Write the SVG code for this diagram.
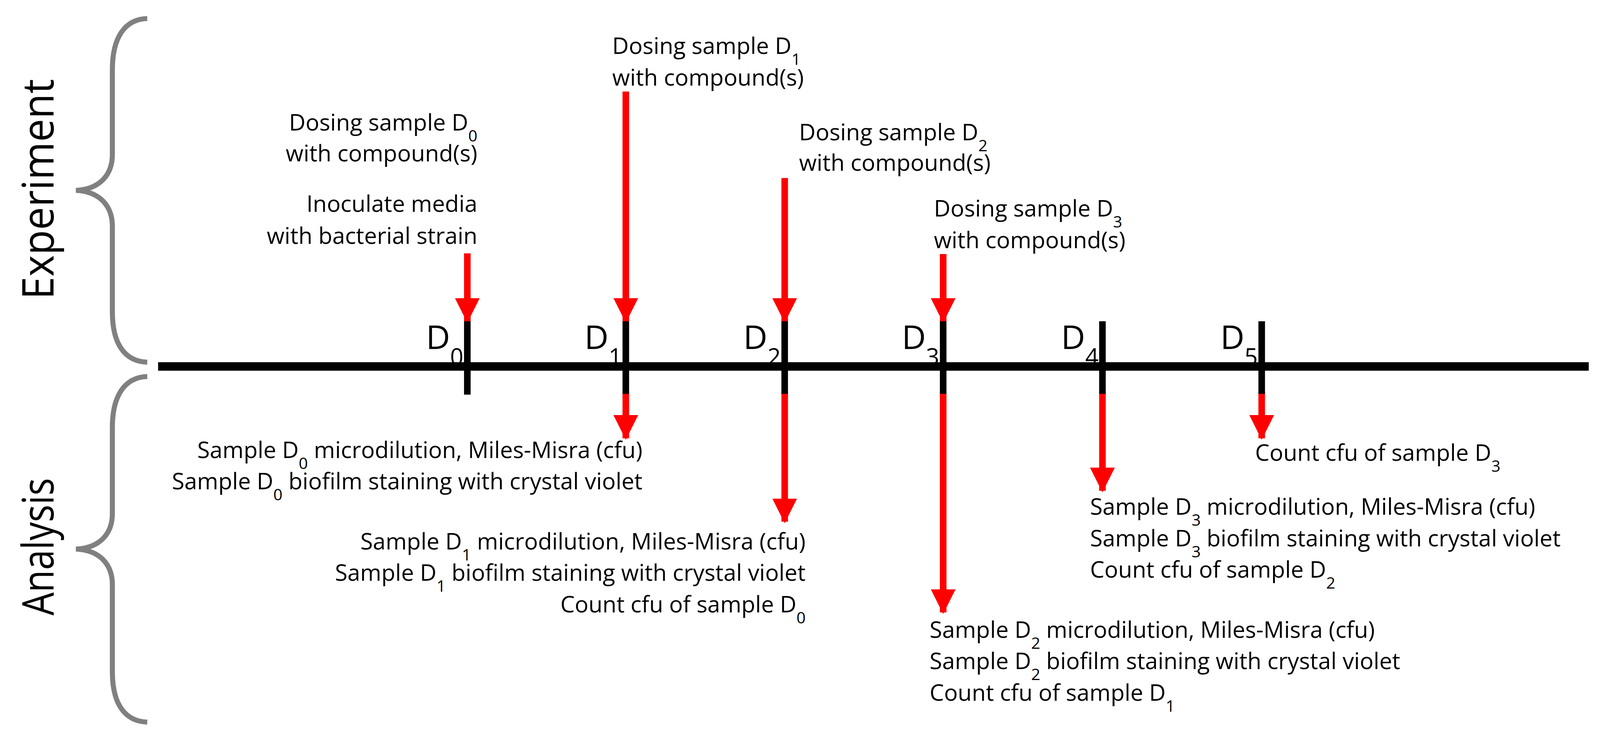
<svg xmlns="http://www.w3.org/2000/svg" width="4130" height="1919" viewBox="0 0 4130 1919">
<style>
text{font-family:"Open Sans","Liberation Sans",sans-serif;fill:#000}
.t{font-size:59px}
.d{font-size:86px}
.s{font-size:70%}
.big{font-size:112px}
.brace{fill:none;stroke:#808080;stroke-width:13}
.red{stroke:#f00;stroke-width:17}
.tick{stroke:#000;stroke-width:17}
</style>
<defs>
<marker id="ah" viewBox="0 0 64 64" refX="60" refY="32" markerWidth="64" markerHeight="64" markerUnits="userSpaceOnUse" orient="auto"><path d="M0,0 L64,32 L0,64 Z" fill="#f00"/></marker>
</defs>
<g transform="scale(0.992 0.988)">
<g id="braces">
<path class="brace" d="M380,48 C320,50 290,100 290,180 L290,400 C290,450 260,490 196,493 C260,496 290,536 290,586 L290,808 C290,888 320,936 380,938"/>
<path class="brace" d="M380,975 C320,977 290,1027 290,1107 L290,1330 C290,1380 260,1419 196,1422 C260,1425 290,1464 290,1514 L290,1740 C290,1820 320,1868 380,1870"/>
<text class="big" transform="translate(138,490) rotate(-90)" text-anchor="middle" textLength="571" lengthAdjust="spacingAndGlyphs">Experiment</text>
<text class="big" transform="translate(138,1416) rotate(-90)" text-anchor="middle" textLength="356" lengthAdjust="spacingAndGlyphs">Analysis</text>
</g>
<g id="connectors">
<line x1="408" y1="949" x2="4100" y2="949" stroke="#000" stroke-width="22"/>
<line class="red" x1="1206" y1="656" x2="1206" y2="832" marker-end="url(#ah)"/>
<line class="red" x1="1615" y1="237" x2="1615" y2="832" marker-end="url(#ah)"/>
<line class="red" x1="2025" y1="461" x2="2025" y2="832" marker-end="url(#ah)"/>
<line class="red" x1="2434" y1="658" x2="2434" y2="832" marker-end="url(#ah)"/>
<line class="red" x1="1615" y1="1015" x2="1615" y2="1135" marker-end="url(#ah)"/>
<line class="red" x1="2025" y1="1015" x2="2025" y2="1351" marker-end="url(#ah)"/>
<line class="red" x1="2434" y1="1015" x2="2434" y2="1586" marker-end="url(#ah)"/>
<line class="red" x1="2845" y1="1015" x2="2845" y2="1271" marker-end="url(#ah)"/>
<line class="red" x1="3256" y1="1015" x2="3256" y2="1135" marker-end="url(#ah)"/>
</g>
<g id="D0"><line class="tick" x1="1206" y1="832" x2="1206" y2="1022"/><text class="d" x="1196" y="904" text-anchor="end">D<tspan class="s" baseline-shift="sub">0</tspan></text></g>
<g id="D1"><line class="tick" x1="1615" y1="832" x2="1615" y2="1020"/><text class="d" x="1605" y="904" text-anchor="end">D<tspan class="s" baseline-shift="sub">1</tspan></text></g>
<g id="D2"><line class="tick" x1="2025" y1="832" x2="2025" y2="1020"/><text class="d" x="2015" y="904" text-anchor="end">D<tspan class="s" baseline-shift="sub">2</tspan></text></g>
<g id="D3"><line class="tick" x1="2434" y1="832" x2="2434" y2="1020"/><text class="d" x="2424" y="904" text-anchor="end">D<tspan class="s" baseline-shift="sub">3</tspan></text></g>
<g id="D4"><line class="tick" x1="2845" y1="832" x2="2845" y2="1020"/><text class="d" x="2835" y="904" text-anchor="end">D<tspan class="s" baseline-shift="sub">4</tspan></text></g>
<g id="D5"><line class="tick" x1="3256" y1="832" x2="3256" y2="1020"/><text class="d" x="3246" y="904" text-anchor="end">D<tspan class="s" baseline-shift="sub">5</tspan></text></g>
<g id="exp-D0">
<text class="t" x="1232" y="338" text-anchor="end">Dosing sample D<tspan class="s" baseline-shift="sub">0</tspan></text>
<text class="t" x="1232" y="418" text-anchor="end">with compound(s)</text>
<text class="t" x="1232" y="549" text-anchor="end">Inoculate media</text>
<text class="t" x="1232" y="632" text-anchor="end">with bacterial strain</text>
</g>
<g id="exp-D1">
<text class="t" x="1580" y="140">Dosing sample D<tspan class="s" baseline-shift="sub">1</tspan></text>
<text class="t" x="1580" y="222">with compound(s)</text>
</g>
<g id="exp-D2">
<text class="t" x="2062" y="363">Dosing sample D<tspan class="s" baseline-shift="sub">2</tspan></text>
<text class="t" x="2062" y="442">with compound(s)</text>
</g>
<g id="exp-D3">
<text class="t" x="2410" y="561">Dosing sample D<tspan class="s" baseline-shift="sub">3</tspan></text>
<text class="t" x="2410" y="643">with compound(s)</text>
</g>
<g id="ana-D1">
<text class="t" x="1658" y="1186" text-anchor="end">Sample D<tspan class="s" baseline-shift="sub">0</tspan> microdilution, Miles-Misra (cfu)</text>
<text class="t" x="1658" y="1267" text-anchor="end">Sample D<tspan class="s" baseline-shift="sub">0</tspan> biofilm staining with crystal violet</text>
</g>
<g id="ana-D2">
<text class="t" x="2079" y="1423" text-anchor="end">Sample D<tspan class="s" baseline-shift="sub">1</tspan> microdilution, Miles-Misra (cfu)</text>
<text class="t" x="2079" y="1504" text-anchor="end">Sample D<tspan class="s" baseline-shift="sub">1</tspan> biofilm staining with crystal violet</text>
<text class="t" x="2079" y="1586" text-anchor="end">Count cfu of sample D<tspan class="s" baseline-shift="sub">0</tspan></text>
</g>
<g id="ana-D3">
<text class="t" x="2399" y="1652">Sample D<tspan class="s" baseline-shift="sub">2</tspan> microdilution, Miles-Misra (cfu)</text>
<text class="t" x="2399" y="1733">Sample D<tspan class="s" baseline-shift="sub">2</tspan> biofilm staining with crystal violet</text>
<text class="t" x="2399" y="1815">Count cfu of sample D<tspan class="s" baseline-shift="sub">1</tspan></text>
</g>
<g id="ana-D4">
<text class="t" x="2813" y="1333">Sample D<tspan class="s" baseline-shift="sub">3</tspan> microdilution, Miles-Misra (cfu)</text>
<text class="t" x="2813" y="1415">Sample D<tspan class="s" baseline-shift="sub">3</tspan> biofilm staining with crystal violet</text>
<text class="t" x="2813" y="1496">Count cfu of sample D<tspan class="s" baseline-shift="sub">2</tspan></text>
</g>
<g id="ana-D5">
<text class="t" x="3239" y="1193">Count cfu of sample D<tspan class="s" baseline-shift="sub">3</tspan></text>
</g>
</g>
</svg>
